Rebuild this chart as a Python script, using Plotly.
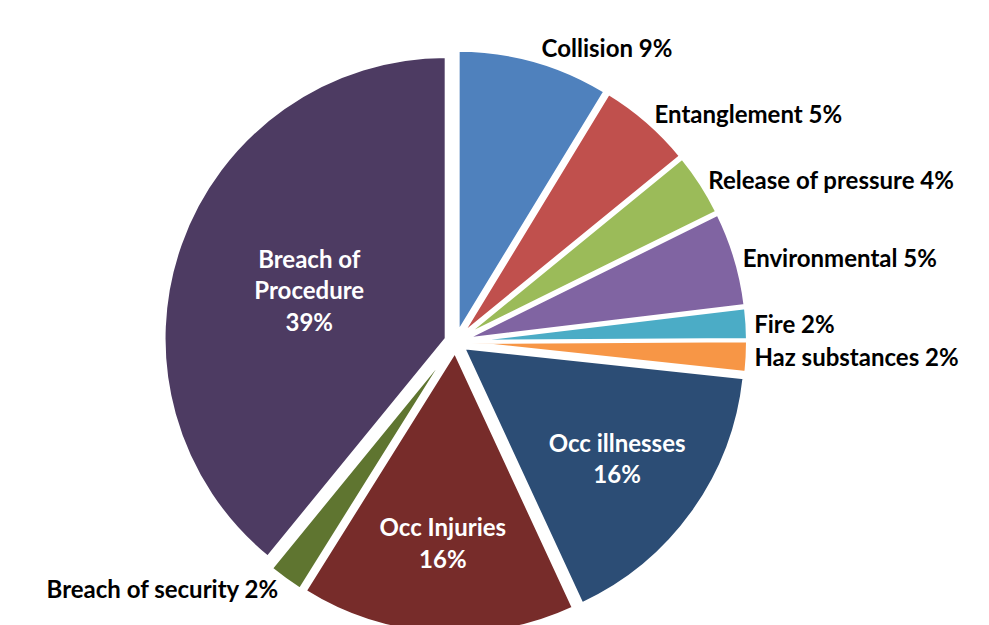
import plotly.graph_objects as go

# slice categories, clockwise from 12 o'clock
labels = ["Collision", "Entanglement", "Release of pressure", "Environmental", "Fire",
          "Haz substances", "Occ illnesses", "Occ Injuries", "Breach of security",
          "Breach of Procedure"]
values = [8.7, 5.4, 3.6, 5.4, 1.8, 1.8, 16.4, 15.8, 2.0, 39.1]
colors = ["#4F81BD", "#C0504D", "#9BBB59", "#8064A2", "#4BACC6",
          "#F79646", "#2C4D75", "#772C2A", "#5F7530", "#4D3B62"]
display = ["Collision", "Entanglement", "Release of pressure", "Environmental", "Fire",
           "Haz substances", "Occ illnesses", "Occ Injuries", "Breach of security",
           "Breach of<br>Procedure"]
inside = [False, False, False, False, False, False, True, True, False, True]

templates = ["%{customdata}<br>%{percent:.0%}" if i else "%{customdata} %{percent:.0%}"
             for i in inside]
positions = ["inside" if i else "outside" for i in inside]

fig = go.Figure(go.Pie(
    labels=labels,
    values=values,
    customdata=display,
    texttemplate=templates,
    textposition=positions,
    sort=False,
    direction="clockwise",
    rotation=0,
    pull=0.035,
    marker=dict(colors=colors, line=dict(color="white", width=3)),
    insidetextfont=dict(family="Lato", size=24, color="white", weight="bold"),
    outsidetextfont=dict(family="Lato", size=24, color="black", weight="bold"),
    insidetextorientation="horizontal",
    domain=dict(x=[0.134, 0.764], y=[0.0, 0.945]),
    showlegend=False,
))

fig.update_layout(
    width=989, height=651,
    margin=dict(l=0, r=0, t=0, b=0),
    paper_bgcolor="white",
)

fig.write_html("out.html")
